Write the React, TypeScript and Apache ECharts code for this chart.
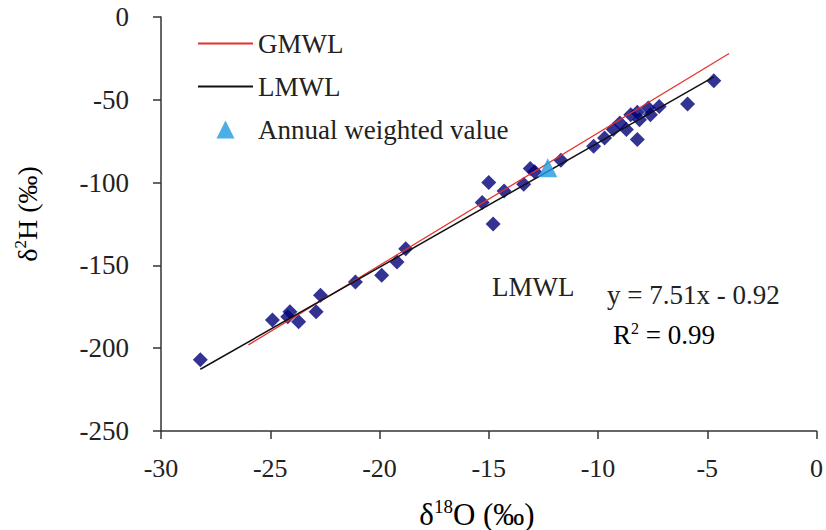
import React, { useEffect, useRef } from "react";
import * as echarts from "echarts";

// Monthly samples: [δ18O, δ2H]
const samples: [number, number][] = [
  [-28.2, -207], [-24.9, -183], [-24.1, -178], [-24.2, -181], [-23.7, -184],
  [-22.9, -178], [-22.7, -168], [-21.1, -160], [-19.9, -156], [-19.2, -148],
  [-18.8, -140], [-15.3, -112], [-15.0, -100], [-14.8, -125], [-14.3, -105],
  [-13.4, -101], [-13.1, -91.5], [-12.9, -93.5], [-11.7, -86.5], [-10.2, -78],
  [-9.7, -73], [-9.3, -68], [-9.0, -64], [-8.7, -68], [-8.5, -59],
  [-8.2, -57.5], [-8.1, -62], [-8.2, -74], [-7.7, -55], [-7.6, -59],
  [-7.2, -54], [-5.9, -52.5], [-4.7, -38.5],
];
const annualWeighted: [number, number][] = [[-12.3, -91]];
// Line end points
const gmwlLine: [number, number][] = [[-26, -198], [-4, -22]];
const lmwlLine: [number, number][] = [[-28.2, -212.7], [-4.7, -36.2]];

const xMin = -30, xMax = 0, xInterval = 5;
const yMin = -250, yMax = 0, yInterval = 50;

const legendNames = ["GMWL", "LMWL", "Annual weighted value"];
const equationText = "y = 7.51x - 0.92";
const r2Value = " = 0.99";

const FONT = "'Liberation Serif', 'Times New Roman', serif";
const TXT = "#222";
const TRIANGLE_ICON = "path://M0,18L9,0L18,18Z";

export default function App() {
  const ref = useRef<HTMLDivElement>(null);
  useEffect(() => {
    document.body.style.margin = "0";
    if (!ref.current) return;
    const chart = echarts.init(ref.current, undefined, { renderer: "svg" });
    const rich = (size: number, sup: number, lh: number) => ({
      n: { fontFamily: FONT, fontSize: size, lineHeight: lh, color: TXT },
      s: { fontFamily: FONT, fontSize: sup, lineHeight: sup, verticalAlign: "top", color: TXT },
    });
    const axisLine = { show: true, onZero: false, lineStyle: { color: "#333", width: 1.5 } };
    const axisTick = { show: true, inside: false, length: 8, lineStyle: { color: "#333", width: 1.5 } };
    chart.setOption({
      animation: false,
      backgroundColor: "#fff",
      grid: { left: 161, right: 6, top: 17, bottom: 99, containLabel: false },
      legend: {
        orient: "vertical",
        left: 192,
        top: 25,
        itemWidth: 55,
        itemHeight: 18,
        itemGap: 16,
        selectedMode: false,
        symbolKeepAspect: true,
        data: [
          { name: legendNames[0], itemStyle: { opacity: 0 } },
          { name: legendNames[1], itemStyle: { opacity: 0 } },
          { name: legendNames[2], icon: TRIANGLE_ICON },
        ],
        textStyle: { fontFamily: FONT, fontSize: 27, color: TXT },
      },
      xAxis: {
        type: "value",
        min: xMin,
        max: xMax,
        interval: xInterval,
        axisLine,
        axisTick,
        axisLabel: { fontFamily: FONT, fontSize: 26, color: TXT, margin: 24 },
        splitLine: { show: false },
      },
      yAxis: {
        type: "value",
        min: yMin,
        max: yMax,
        interval: yInterval,
        axisLine,
        axisTick,
        axisLabel: { fontFamily: FONT, fontSize: 27, color: TXT, margin: 32 },
        splitLine: { show: false },
      },
      series: [
        {
          name: "Samples",
          type: "scatter",
          data: samples,
          symbol: "diamond",
          symbolSize: 15,
          itemStyle: { color: "#000078" },
          z: 2,
        },
        {
          name: "GMWL",
          type: "line",
          data: gmwlLine,
          symbol: "none",
          lineStyle: { color: "#e8302a", width: 1.2 },
          itemStyle: { color: "#e8302a" },
          z: 3,
        },
        {
          name: "LMWL",
          type: "line",
          data: lmwlLine,
          symbol: "none",
          lineStyle: { color: "#111", width: 1.5 },
          itemStyle: { color: "#111" },
          z: 4,
        },
        {
          name: "Annual weighted value",
          type: "scatter",
          data: annualWeighted,
          symbol: "triangle",
          symbolSize: 19,
          itemStyle: { color: "#1e9ade" },
          z: 5,
        },
      ],
      graphic: [
        {
          type: "text",
          x: 492,
          y: 287,
          style: { text: "LMWL", font: `27px ${FONT}`, fill: TXT, align: "left", verticalAlign: "middle" },
        },
        {
          type: "text",
          x: 607,
          y: 295,
          style: { text: equationText, font: `27px ${FONT}`, fill: TXT, align: "left", verticalAlign: "middle" },
        },
        {
          type: "text",
          x: 613,
          y: 335,
          style: {
            text: `{n|R}{s|2}{n|${r2Value}}`,
            rich: rich(27, 16, 30),
            align: "left",
            verticalAlign: "middle",
          },
        },
        {
          type: "text",
          x: 477,
          y: 514,
          style: {
            text: "{n|δ}{s|18}{n|O (‰)}",
            rich: rich(31, 19, 34),
            align: "center",
            verticalAlign: "middle",
          },
        },
        {
          type: "text",
          x: 27,
          y: 214,
          rotation: Math.PI / 2,
          style: {
            text: "{n|δ}{s|2}{n|H (‰)}",
            rich: rich(28, 17, 31),
            align: "center",
            verticalAlign: "middle",
          },
        },
      ],
    });
    return () => chart.dispose();
  }, []);
  return <div ref={ref} style={{ width: 826, height: 530 }} />;
}
